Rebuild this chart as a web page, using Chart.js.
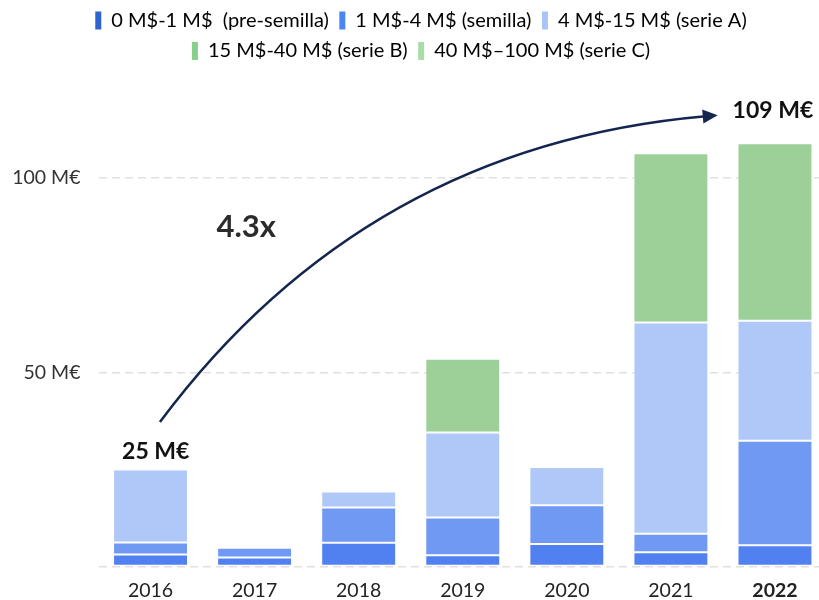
<!DOCTYPE html>
<html>
<head>
<meta charset="utf-8">
<script src="https://cdn.jsdelivr.net/npm/chart.js@4"></script>
<style>
html, body { margin: 0; padding: 0; background: #fff; overflow: hidden; }
canvas { display: block; }
</style>
</head>
<body>
<canvas id="fundingChart" width="827" height="600"></canvas>
<script>
// Datos del gráfico (M€ por tramo de ronda)
const years = ['2016', '2017', '2018', '2019', '2020', '2021', '2022'];
const preSemilla = [3.1, 2.3, 6.1, 2.9, 5.8, 3.7, 5.5];
const semilla = [3.1, 2.5, 9.1, 9.7, 10.0, 4.7, 26.9];
const serieA = [18.8, null, 4.1, 21.9, 9.8, 54.4, 30.9];
const serieB = [null, null, null, 19.0, null, 43.6, 45.7];
const serieC = [null, null, null, null, null, null, null];
const seriesLabels = ['0 M$-1 M$  (pre-semilla)', '1 M$-4 M$ (semilla)', '4 M$-15 M$ (serie A)',
  '15 M$-40 M$ (serie B)', '40 M$–100 M$ (serie C)'];
const yTicks = [0, 50, 100];
const totalStart = '25 M€';
const totalEnd = '109 M€';
const growth = '4.3x';

const barColors = ['#5181f1', '#6f99f3', '#b0c8f8', '#9dd098', '#b4e0b0'];
const legendColors = ['#2f63d1', '#4a86f6', '#a9c5f8', '#86d08b', '#a9dca9'];

// Flecha y textos de crecimiento
const arrowNotes = {
    id: 'arrowNotes',
    afterDatasetsDraw(chart) {
        const { ctx, scales: { x, y } } = chart;
        const p0 = [x.getPixelForValue(0.09), y.getPixelForValue(37.2)];
        const p1 = [x.getPixelForValue(2.07), y.getPixelForValue(108.3)];
        const tip = [x.getPixelForValue(5.45), y.getPixelForValue(116.2)];
        const dx = tip[0] - p1[0], dy = tip[1] - p1[1];
        const len = Math.hypot(dx, dy);
        const ux = dx / len, uy = dy / len;
        const head = 15;
        const end = [tip[0] - ux * head * 0.8, tip[1] - uy * head * 0.8];

        ctx.save();
        ctx.strokeStyle = '#14264f';
        ctx.fillStyle = '#14264f';
        ctx.lineWidth = 2.5;
        ctx.beginPath();
        ctx.moveTo(p0[0], p0[1]);
        ctx.quadraticCurveTo(p1[0], p1[1], end[0], end[1]);
        ctx.stroke();
        ctx.beginPath();
        ctx.moveTo(tip[0], tip[1]);
        ctx.lineTo(tip[0] - ux * head - uy * 7, tip[1] - uy * head + ux * 7);
        ctx.lineTo(tip[0] - ux * head + uy * 7, tip[1] - uy * head - ux * 7);
        ctx.closePath();
        ctx.fill();

        ctx.textAlign = 'center';
        ctx.textBaseline = 'middle';
        ctx.fillStyle = '#2b2b2b';
        ctx.font = 'bold 31px Lato';
        ctx.fillText(growth, x.getPixelForValue(0.92), y.getPixelForValue(87.3));
        ctx.fillStyle = '#111';
        ctx.font = 'bold 23px Lato';
        ctx.fillText(totalStart, x.getPixelForValue(0.05), y.getPixelForValue(29.5));
        ctx.fillText(totalEnd, x.getPixelForValue(5.98), y.getPixelForValue(117.3));
        ctx.restore();
    }
};

// Leyenda: altura fija y algo desplazada a la derecha
const legendBox = {
    id: 'legendBox',
    beforeInit(chart) {
        const fit = chart.legend.fit;
        chart.legend.fit = function() {
            fit.call(this);
            this.height = 100.4;
        };
    },
    afterLayout(chart) {
        chart.legend.left += 7.5;
        chart.legend.right += 7.5;
    }
};

const datasets = [preSemilla, semilla, serieA, serieB, serieC].map((values, i) => ({
    label: seriesLabels[i],
    data: values,
    backgroundColor: barColors[i],
    borderColor: 'rgba(255,255,255,0.5)',
    borderWidth: 1,
    borderSkipped: false,
    categoryPercentage: 0.8,
    barPercentage: 0.9
}));

new Chart(document.getElementById('fundingChart'), {
    type: 'bar',
    data: { labels: years, datasets: datasets },
    plugins: [legendBox, arrowNotes],
    options: {
        responsive: false,
        animation: false,
        layout: { padding: 0 },
        plugins: {
            tooltip: { enabled: false },
            legend: {
                position: 'top',
                labels: {
                    boxWidth: 6,
                    boxHeight: 18,
                    padding: 10.5,
                    color: '#222',
                    font: { family: 'Lato', size: 20 },
                    generateLabels: chart => chart.data.datasets.map((ds, i) => ({
                        text: ds.label,
                        fillStyle: legendColors[i],
                        strokeStyle: legendColors[i],
                        lineWidth: 0,
                        hidden: false,
                        datasetIndex: i
                    }))
                }
            }
        },
        scales: {
            x: {
                stacked: true,
                grid: { display: false, drawTicks: false },
                border: { display: false },
                afterFit: scale => { scale.height = 33.5; },
                ticks: {
                    padding: 13,
                    color: '#222',
                    font: ctx => ({ family: 'Lato', size: 19.5, weight: ctx.index === years.length - 1 ? 'bold' : 'normal' })
                }
            },
            y: {
                stacked: true,
                min: 0,
                max: 120,
                afterBuildTicks: scale => { scale.ticks = yTicks.map(v => ({ value: v })); },
                afterFit: scale => { scale.width = 98.5; },
                border: { display: false, dash: [8, 5] },
                grid: { color: '#e0e0e0', lineWidth: 1.5, drawTicks: false },
                ticks: {
                    padding: 18,
                    color: '#333',
                    font: { family: 'Lato', size: 19.5 },
                    callback: v => v === 0 ? '' : v + ' M€'
                }
            }
        }
    }
});
</script>
</body>
</html>
